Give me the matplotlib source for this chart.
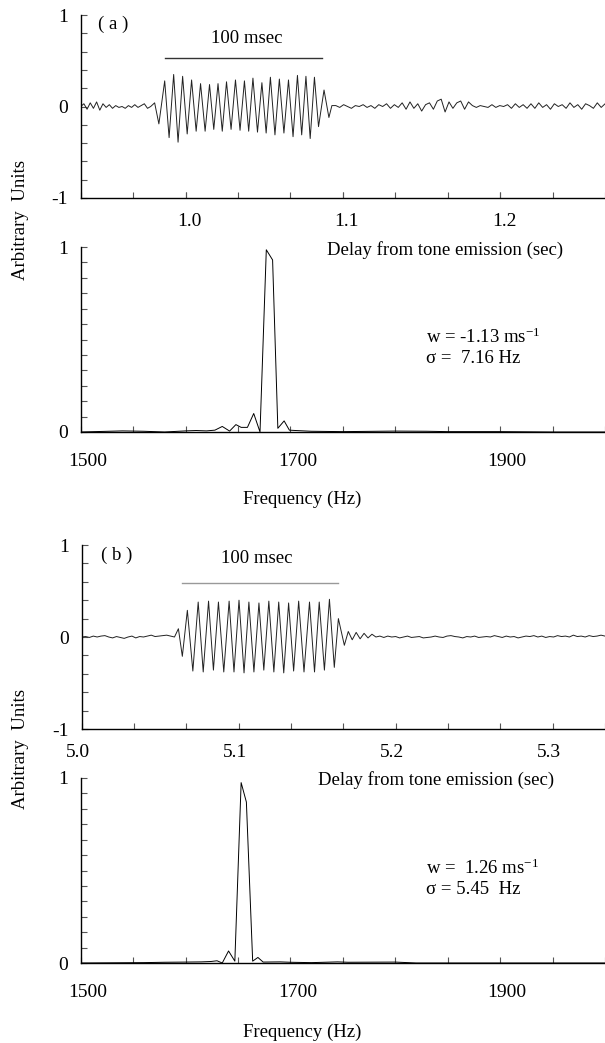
import numpy as np
import matplotlib
matplotlib.use("Agg")
import matplotlib.pyplot as plt
from matplotlib.transforms import ScaledTranslation

plt.rcParams['font.family'] = ['Liberation Serif', 'DejaVu Serif']
plt.rcParams['mathtext.fontset'] = 'custom'
plt.rcParams['mathtext.rm'] = 'Liberation Serif'
plt.rcParams['mathtext.it'] = 'Liberation Serif:italic'

# ---------------- data ----------------
# (a) time trace: noise before tone, tone peaks/troughs, noise after
pre_a = [0.00, 0.03, -0.03, 0.04, -0.02, 0.05, -0.04, 0.03, -0.01, 0.02, -0.02, 0.01,
         -0.01, 0.00, -0.02, 0.01, -0.01, 0.02, -0.01, 0.01, 0.03, -0.02, 0.00]
tone_t_a = [0.9803, 0.9830, 0.9867, 0.9895, 0.9924, 0.9952, 0.9981, 1.0010, 1.0038, 1.0067,
            1.0095, 1.0124, 1.0152, 1.0179, 1.0206, 1.0233, 1.0260, 1.0289, 1.0317, 1.0346,
            1.0374, 1.0401, 1.0428, 1.0457, 1.0485, 1.0512, 1.0539, 1.0568, 1.0596, 1.0625,
            1.0654, 1.0683, 1.0711, 1.0738, 1.0765, 1.0792, 1.0819, 1.0845, 1.0880, 1.0911, 1.0930]
tone_y_a = [0.04, -0.19, 0.28, -0.34, 0.35, -0.39, 0.33, -0.30, 0.29, -0.27,
            0.25, -0.27, 0.24, -0.25, 0.25, -0.27, 0.27, -0.25, 0.29, -0.26,
            0.28, -0.27, 0.31, -0.28, 0.26, -0.29, 0.32, -0.31, 0.30, -0.29,
            0.29, -0.33, 0.34, -0.31, 0.33, -0.35, 0.32, -0.22, 0.18, -0.12, 0.01]
post_a = [0.01, -0.01, 0.02, 0.00, -0.02, 0.01, 0.00, 0.02, -0.01, 0.01, -0.02, 0.02, 0.00,
          0.03, -0.02, 0.02, -0.01,
          0.04, -0.03, 0.05, -0.02, 0.03, -0.05, 0.02, 0.04, -0.03, 0.06, 0.08, -0.06, 0.05,
          -0.02, 0.04, 0.06, -0.03, 0.05,
          0.01, -0.01, 0.01, 0.00, -0.01, 0.02, -0.01, 0.01, 0.00, 0.02, -0.02, 0.03, -0.01,
          0.02, -0.02,
          0.03, -0.02, 0.04, -0.01, 0.02, -0.03, 0.03, 0.00, 0.02, -0.02, 0.04, -0.01, 0.02,
          -0.03, 0.03, 0.01, -0.02, 0.04, -0.01, 0.03]

# (a) spectrum
freq_a = [1500, 1520, 1540, 1560, 1580, 1600, 1610, 1620, 1628, 1635, 1642, 1648, 1653, 1659,
          1665, 1671, 1677, 1683, 1688, 1694, 1699, 1705, 1720, 1750, 1800, 1830, 1850, 1900,
          1950, 2000]
amp_a = [0.0, 0.003, 0.006, 0.004, 0.0, 0.006, 0.008, 0.006, 0.01, 0.03, 0.005, 0.04, 0.025,
         0.025, 0.10, 0.0, 0.985, 0.93, 0.02, 0.06, 0.01, 0.008, 0.004, 0.002, 0.005, 0.004,
         0.002, 0.002, 0.0, 0.0]

# (b) time trace
pre_b = [0.0, 0.005, -0.005, 0.01, 0.0, 0.01, 0.015, 0.0, -0.01, 0.005, -0.005, -0.015,
         0.0, 0.01, -0.01, 0.005, 0.0, 0.01, 0.02, 0.005, 0.01, 0.015, 0.02, 0.01]
tone_t_b = [5.0591, 5.0616, 5.0641, 5.0673, 5.0708, 5.0742, 5.0774, 5.0808, 5.0839, 5.0871,
            5.0905, 5.0939, 5.0970, 5.1002, 5.1034, 5.1065, 5.1097, 5.1129, 5.1160, 5.1192,
            5.1224, 5.1255, 5.1287, 5.1318, 5.1350, 5.1382, 5.1416, 5.1451, 5.1483, 5.1513,
            5.1546, 5.1578, 5.1609, 5.1635, 5.1673]
tone_y_b = [0.0, 0.09, -0.21, 0.29, -0.37, 0.38, -0.38, 0.39, -0.36, 0.38,
            -0.38, 0.39, -0.38, 0.40, -0.39, 0.38, -0.38, 0.37, -0.36, 0.39,
            -0.38, 0.38, -0.39, 0.37, -0.37, 0.39, -0.38, 0.38, -0.38, 0.38,
            -0.36, 0.41, -0.33, 0.20, -0.09]
post_b = [0.06, -0.03, 0.05, -0.02, 0.04, -0.01, 0.03, 0.0,
          0.01, -0.005, 0.01, 0.0, 0.005, -0.01, 0.0, 0.01, -0.005, 0.0, 0.005, -0.01,
          -0.005, 0.0, 0.01, 0.0, -0.005, 0.01, 0.015, 0.005, 0.0, -0.01, 0.005, 0.0,
          0.01, -0.005, 0.0, 0.005, 0.0, 0.015, 0.005, -0.005, 0.01, 0.0, 0.005, -0.01,
          0.0, 0.01, 0.005, 0.015, 0.0, 0.01, -0.005, 0.005, 0.0, 0.015, 0.005, 0.01,
          0.0, 0.02, 0.005, 0.01, 0.0, 0.015, 0.005, 0.01, 0.02, 0.01]

# (b) spectrum
freq_b = [1500, 1560, 1580, 1600, 1615, 1624, 1630, 1635, 1641, 1647, 1653, 1658, 1664, 1669,
          1674, 1690, 1700, 1720, 1745, 1755, 1800, 1820, 2000]
amp_b = [0.0, 0.002, 0.004, 0.005, 0.006, 0.008, 0.012, 0.0, 0.065, 0.01, 0.975, 0.87, 0.01,
         0.03, 0.005, 0.006, 0.004, 0.002, 0.006, 0.004, 0.005, 0.0, 0.0]

labels_a = ["( a )", "w = -1.13 ms$^{-1}$", "\u03c3 =  7.16 Hz"]
labels_b = ["( b )", "w =  1.26 ms$^{-1}$", "\u03c3 = 5.45  Hz"]

# ---------------- figure ----------------
W, H = 605, 1043
fig = plt.figure(figsize=(W / 100, H / 100), dpi=100)


def box(left, top, bottom, right=605):
    return [left / W, 1 - bottom / H, (right - left) / W, (bottom - top) / H]


def style(ax):
    for s in ['top', 'right']:
        ax.spines[s].set_visible(False)
    for s in ['left', 'bottom']:
        ax.spines[s].set_linewidth(1.0)
    ax.tick_params(which='both', direction='in', length=4, width=0.8,
                   color='#555555', labelsize=14)
    ax.tick_params(axis='y', pad=9)


def shift_xlabels(ax, px):
    # the original tick labels sit a few pixels off their ticks
    off = ScaledTranslation(px / 100, 0, fig.dpi_scale_trans)
    for lb in ax.get_xticklabels():
        lb.set_transform(lb.get_transform() + off)


def time_panel(ax, t0, pre, tt, ty, post, t_end, lab, bar, bar_c, txt_xy, lab_xy, major):
    t_pre = np.linspace(t0, tt[0] - 0.0025, len(pre))
    t_post = np.linspace(tt[-1] + 0.0025, t_end, len(post))
    t = np.concatenate([t_pre, tt, t_post])
    y = np.concatenate([pre, ty, post])
    ax.plot(t, y, color='#222222', lw=0.7)
    ax.set_xlim(t0, t0 + 1 / 3)
    ax.set_ylim(-1, 1)
    ax.set_yticks([-1, 0, 1])
    ax.set_yticklabels(['-1', '0', '1'])
    ax.set_yticks(np.arange(-1, 1.01, 0.2), minor=True)
    ax.set_xticks(major)
    ax.set_xticklabels(['%.1f' % v for v in major])
    ax.set_xticks(t0 + np.arange(0, 11) / 30, minor=True)
    ax.tick_params(axis='x', pad=11)
    ax.plot(bar, [txt_xy[2], txt_xy[2]], color=bar_c, lw=1.0)
    ax.text(txt_xy[0], txt_xy[1], "100 msec", ha='center', va='center', fontsize=13.5)
    ax.text(lab_xy[0], lab_xy[1], lab, ha='center', va='center', fontsize=13.5)
    style(ax)


def freq_panel(ax, f, a, l1, l2, y1, y2):
    ax.plot(f, a, color='black', lw=0.7)
    ax.set_xlim(1500, 2000)
    ax.set_ylim(0, 1)
    ax.set_yticks([0, 1])
    ax.set_yticklabels(['0', '1'])
    ax.set_yticks(np.arange(0, 13) / 12, minor=True)
    ax.set_xticks([1500, 1700, 1900])
    ax.set_xticks(np.arange(1500, 2001, 50), minor=True)
    ax.tick_params(axis='x', pad=15)
    ax.text(1829, y1, l1, ha='left', va='center', fontsize=13.5)
    ax.text(1829, y2, l2, ha='left', va='center', fontsize=13.5)
    style(ax)
    shift_xlabels(ax, 7)


ax1 = fig.add_axes(box(80.7, 15, 198))
time_panel(ax1, 0.9333, pre_a, tone_t_a, tone_y_a, post_a, 1.2667, labels_a[0],
           [0.987, 1.087], '#333333', (1.0389, 0.743, 0.525), (0.9538, 0.895), [1.0, 1.1, 1.2])
shift_xlabels(ax1, 4)

ax2 = fig.add_axes(box(80.7, 247, 432))
freq_panel(ax2, freq_a, amp_a, labels_a[1], labels_a[2], 0.51, 0.395)

ax3 = fig.add_axes(box(81.7, 545, 729))
time_panel(ax3, 5.0, pre_b, tone_t_b, tone_y_b, post_b, 5.3333, labels_b[0],
           [5.0641, 5.1635], '#999999', (5.1116, 0.85, 0.584), (5.0223, 0.89), [5.0, 5.1, 5.2, 5.3])
shift_xlabels(ax3, -4)

ax4 = fig.add_axes(box(80.7, 778, 963))
freq_panel(ax4, freq_b, amp_b, labels_b[1], labels_b[2], 0.51, 0.395)

# axis titles placed as in the original layout
for (dx, dy) in [(327, 250), (318, 780)]:
    fig.text(dx / W, 1 - dy / H, "Delay from tone emission (sec)", ha='left', va='center',
             fontsize=13.5)
for dy in [499, 1032]:
    fig.text(302 / W, 1 - dy / H, "Frequency (Hz)", ha='center', va='center', fontsize=13.5)
for dy in [220, 749]:
    fig.text(21 / W, 1 - dy / H, "Arbitrary  Units", ha='center', va='center', rotation=90,
             fontsize=13.5)

fig.savefig("out.png", dpi=100)
